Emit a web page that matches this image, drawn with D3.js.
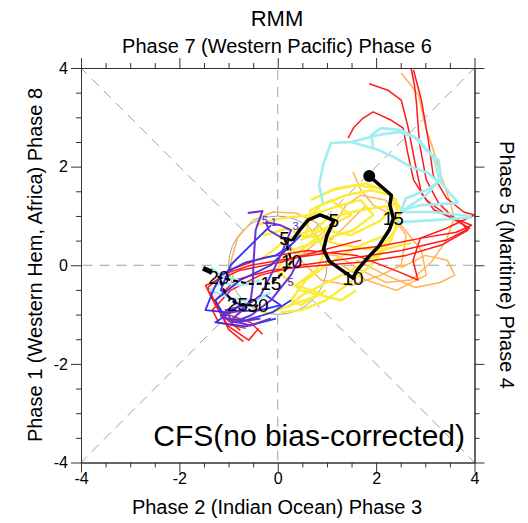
<!DOCTYPE html>
<html>
<head>
<meta charset="utf-8">
<script src="https://cdn.jsdelivr.net/npm/d3@7"></script>
<style>
  body { margin: 0; background: #fff; }
  text { font-family: "Liberation Sans", Arial, Helvetica, sans-serif; fill: #000; }
</style>
</head>
<body>
<svg id="chart" width="528" height="523"></svg>
<script>
// ---- axis ticks ----
const majorTicks = [-4, -2, 0, 2, 4];
const minorTicks = [-3.5, -3, -2.5, -1.5, -1, -0.5, 0.5, 1, 1.5, 2.5, 3, 3.5];

// ---- ensemble member tracks (RMM1, RMM2), grouped by colour ----
const redTracks = [
  [[2.71,4.0],[2.78,3.65],[2.82,3.29],[2.88,2.48],[3.02,1.73],[3.27,1.26],[3.59,0.95],[3.94,0.81],[3.63,0.67],[2.92,0.55],[2.10,0.39],[1.08,0.26],[0.27,0.14],[-0.55,0.0],[-1.16,-0.2],[-1.37,-0.61],[-1.06,-1.08],[-0.76,-1.32]],
  [[1.86,3.68],[2.24,3.55],[2.51,3.35],[2.65,2.80],[2.78,2.13],[2.92,1.46],[3.18,1.12],[3.73,0.87],[3.86,0.71],[3.33,0.41],[2.61,0.2],[1.69,0.06],[0.67,-0.02],[-0.14,-0.1],[-0.86,-0.3],[-1.27,-0.71],[-1.16,-0.95],[-0.55,-1.16],[-0.31,-1.4]],
  [[1.43,2.58],[1.55,2.8],[1.73,2.98],[1.94,3.11],[2.31,2.94],[2.55,2.78],[2.63,2.34],[2.76,1.73],[3.02,1.32],[3.43,1.02],[3.9,0.75],[3.43,0.51],[2.51,0.3],[1.49,0.14],[0.47,0.0],[-0.35,-0.2],[-0.96,-0.51],[-1.33,-0.91],[-1.2,-1.16],[-0.65,-1.28]],
  [[2.76,3.96],[2.92,3.35],[3.06,2.54],[3.16,1.83],[3.43,1.36],[3.78,1.08],[4.0,1.02],[3.43,0.75],[2.9,0.55],[2.75,0.1],[2.85,-0.3],[2.5,-0.15],[1.6,0.2],[0.6,0.3],[-0.3,0.15],[-1.0,-0.1],[-1.42,-0.45],[-1.25,-0.8],[-1.0,-1.3],[-0.7,-1.55]],
  [[1.69,0.51],[0.88,0.3],[0.06,0.06],[-0.76,-0.1],[-1.47,-0.41],[-1.27,-0.81],[-1.0,-1.24],[-0.59,-1.52],[-0.39,-1.28]]
];
const orangeTracks = [
  [[2.51,3.9],[2.71,3.65],[2.86,3.45],[3.02,2.74],[3.12,2.48],[3.33,1.79],[3.49,1.32],[3.59,0.97],[3.43,0.51],[3.12,0.06],[2.71,-0.3],[2.2,-0.35],[1.69,-0.1],[1.2,0.2],[0.6,0.25],[0.0,0.05]],
  [[1.53,1.89],[1.69,1.52],[1.94,1.22],[2.31,1.02],[2.61,0.61],[2.51,0.0],[2.1,-0.2],[1.49,-0.41],[0.88,-0.3],[0.47,0.1],[0.16,0.51]],
  [[1.8,1.22],[1.39,0.81],[1.08,0.51],[0.78,0.87],[0.37,1.06],[-0.1,1.08],[-0.51,0.91],[-0.82,0.55],[-0.96,0.04],[-0.9,-0.3]],
  [[0.47,0.2],[1.08,0.71],[1.39,1.22],[1.69,1.42],[2.2,1.32],[2.51,0.81],[2.92,0.3],[3.02,-0.2],[2.41,-0.51],[1.8,-0.3],[1.3,0.0]],
  [[1.6,0.1],[2.2,-0.2],[2.8,-0.45],[3.3,-0.35],[3.6,-0.2],[3.45,0.1],[3.0,0.2],[2.5,-0.05]]
];
const yellowTracks = [
  [[0.53,0.87],[0.88,1.22],[1.39,1.42],[1.9,1.52],[2.31,1.42],[2.47,1.02],[2.2,0.61],[1.69,0.41],[1.08,0.06],[0.57,-0.3],[0.27,-0.71],[0.47,-0.81],[0.98,-0.51]],
  [[-0.45,0.81],[0.06,0.95],[0.67,1.02],[1.29,1.22],[1.69,1.32],[1.94,1.02],[1.53,0.71],[0.88,0.51],[0.27,0.3],[-0.04,-0.1],[0.47,-0.51],[1.29,-0.71],[1.59,-0.51]],
  [[0.47,0.51],[1.08,0.81],[1.49,1.02],[1.08,1.32],[0.67,1.12],[0.57,0.61],[1.29,0.41],[2.1,0.3],[2.51,0.41],[2.71,0.45]],
  [[-0.35,0.1],[0.16,0.51],[0.67,0.71],[0.98,0.3],[0.78,-0.1],[0.37,-0.41],[0.9,-0.58],[-0.2,-0.98],[-0.45,-0.9]],
  [[1.08,1.52],[1.59,1.62],[2.1,1.56],[2.41,1.32],[2.1,0.91],[1.49,0.61],[0.98,0.71],[0.47,0.3],[0.06,-0.2]],
  [[0.67,1.32],[1.18,1.56],[1.8,1.66],[2.27,1.48],[2.51,1.12],[2.31,0.51],[1.9,0.0],[1.39,-0.41],[0.98,-0.71],[0.47,-0.91],[0.06,-0.95]],
  [[-0.3,0.6],[0.2,0.75],[0.6,0.55],[1.0,0.95],[1.6,1.1],[2.2,1.2],[2.45,0.8],[2.0,0.2],[1.5,-0.1],[1.0,-0.35],[0.5,-0.6],[0.2,-0.85]]
];
const cyanTracks = [
  [[0.92,1.26],[0.84,1.62],[0.92,2.03],[1.08,2.48],[1.49,2.5],[2.04,2.64],[2.45,2.7],[2.78,2.6],[3.02,2.34],[3.27,2.13],[3.33,1.66],[3.67,1.26]],
  [[1.94,2.38],[1.9,2.64],[2.1,2.78],[2.51,2.74],[2.88,2.54],[3.16,2.19],[3.29,1.73],[3.02,1.42],[2.71,1.22],[2.51,1.08],[3.12,1.08],[3.94,1.0]],
  [[1.49,2.5],[2.04,2.34],[2.37,2.19],[2.71,1.99],[3.06,1.87],[3.27,1.69],[3.02,1.52],[2.61,1.36],[2.51,1.12],[2.92,1.22],[3.67,1.26]],
  [[2.41,0.87],[3.12,0.91],[3.94,0.97]],
  [[-0.35,-0.3],[-0.76,-0.41],[-1.16,-0.35],[-1.37,-0.51],[-0.96,-0.67],[-0.45,-0.71],[-0.14,-0.55]],
  [[-1.35,-0.05],[-1.1,-0.25],[-0.8,-0.3]]
];
const blueTracks = [
  [[0.27,0.41],[-0.04,0.2],[-0.65,0.06],[-1.16,-0.2],[-1.31,-0.51],[-1.47,-0.91],[-1.06,-0.95],[-0.35,-0.91],[0.06,-0.81],[-0.24,-0.61]],
  [[0.47,0.61],[-0.14,0.0],[-0.76,-0.3],[-1.27,-0.71],[-1.06,-1.08],[-0.65,-1.12],[-0.1,-0.95],[0.27,-0.71]],
  [[-0.14,0.81],[-0.55,0.41],[-0.96,0.0],[-1.16,-0.51],[-0.76,-0.81],[-1.27,-1.16],[-0.65,-1.24],[-0.04,-1.08]]
];
const purpleTracks = [
  [[-0.61,1.06],[-0.31,1.1],[-0.45,0.71],[-0.49,0.1],[-0.51,-0.41],[-0.55,-0.71],[-0.76,-0.95],[-0.96,-1.12],[-0.55,-1.22],[-0.14,-1.08]],
  [[0.27,0.3],[0.16,0.51],[-0.18,0.71],[-0.24,0.87],[0.06,0.81],[0.27,0.71],[0.06,0.2],[-0.14,-0.2],[-0.35,-0.61],[-0.76,-0.91],[-1.16,-1.02],[-0.86,-1.16],[-0.35,-1.08]],
  [[0.47,0.2],[0.27,-0.2],[0.1,-0.41],[-0.14,-0.71],[-0.55,-1.02],[-0.92,-1.16],[-1.06,-0.91],[-0.65,-0.81]]
];
const purpleDayLabels = [
  { t: "5", p: [-0.26, 0.92] },
  { t: "1", p: [-0.08, 0.87] },
  { t: "3", p: [0.36, 0.80] },
  { t: "5", p: [0.26, -0.33] }
];

// ---- ensemble-mean paths with day labels ----
const meanSolid = [[1.86,1.81],[2.31,1.42],[2.28,1.22],[2.35,0.95],[2.27,0.72],[2.05,0.38],[1.8,0.12],[1.6,-0.12],[1.53,-0.26],[1.3,-0.1],[1.05,0.08],[0.93,0.32],[1.0,0.6],[1.14,0.91],[0.86,1.02],[0.62,0.92],[0.45,0.72],[0.3,0.5]];
const meanSolidDays = [{ i: 3, t: "15" }, { i: 8, t: "10" }, { i: 13, t: "5" }];
const meanDashed = [[0.3,0.5],[0.14,0.55],[0.28,0.08],[0.12,-0.14],[-0.14,-0.37],[-0.55,-0.38],[-0.95,-0.3],[-1.2,-0.24],[-1.1,-0.5],[-0.95,-0.7],[-0.82,-0.8],[-0.4,-0.82]];
const meanDashedDays = [{ i: 1, t: "5" }, { i: 2, t: "10" }, { i: 4, t: "15" }, { i: 7, t: "20" }, { i: 10, t: "25" }, { i: 11, t: "30" }];
const meanTail = [[-1.52,-0.06],[-1.34,-0.14]];

// ---- texts ----
const titleText = "RMM";
const topLabel = "Phase 7 (Western Pacific) Phase 6";
const bottomLabel = "Phase 2 (Indian Ocean) Phase 3";
const leftLabel = "Phase 1 (Western Hem, Africa) Phase 8";
const rightLabel = "Phase 5 (Maritime) Phase 4";
const modelLabel = "CFS(no bias-corrected)";

const svg = d3.select("#chart");
const x = d3.scaleLinear().domain([-4, 4]).range([81, 474.5]);
const y = d3.scaleLinear().domain([-4, 4]).range([462.5, 68]);
const line = d3.line().x(d => x(d[0])).y(d => y(d[1]));

// phase separators: dashed rays from the unit circle to the frame
const rays = [[4,0],[4,4],[0,4],[-4,4],[-4,0],[-4,-4],[0,-4],[4,-4]];
svg.append("g").selectAll("line").data(rays).join("line")
  .attr("x1", d => { const r = Math.hypot(d[0], d[1]); return x(d[0] / r); })
  .attr("y1", d => { const r = Math.hypot(d[0], d[1]); return y(d[1] / r); })
  .attr("x2", d => x(d[0])).attr("y2", d => y(d[1]))
  .attr("stroke", "#a0a0a0").attr("stroke-width", 1).attr("stroke-dasharray", "10,7");

svg.append("circle")
  .attr("cx", x(0)).attr("cy", y(0)).attr("r", x(1) - x(0))
  .attr("fill", "none").attr("stroke", "#a0a0a0").attr("stroke-width", 1);

// member tracks
const groups = [
  { data: orangeTracks, color: "#ffb450", w: 1.5 },
  { data: yellowTracks, color: "#fcec3a", w: 2.4 },
  { data: redTracks, color: "#ff1a1a", w: 1.5 },
  { data: cyanTracks, color: "#9eeef2", w: 2.6 },
  { data: blueTracks, color: "#3232f0", w: 1.8 },
  { data: purpleTracks, color: "#7030d2", w: 2.0 }
];
const plot = svg.append("g");
groups.forEach(g => {
  plot.append("g").selectAll("path").data(g.data).join("path")
    .attr("d", line).attr("fill", "none")
    .attr("stroke", g.color).attr("stroke-width", g.w)
    .attr("stroke-linejoin", "round");
});

plot.append("g").selectAll("text").data(purpleDayLabels).join("text")
  .attr("x", d => x(d.p[0])).attr("y", d => y(d.p[1]))
  .attr("text-anchor", "middle").attr("dominant-baseline", "central")
  .attr("font-size", 11).style("fill", "#5a2ad0").text(d => d.t);

// ensemble means
plot.append("path").attr("d", line(meanDashed)).attr("fill", "none")
  .attr("stroke", "#000").attr("stroke-width", 2.2).attr("stroke-dasharray", "5,3");
plot.append("path").attr("d", line(meanTail)).attr("fill", "none")
  .attr("stroke", "#000").attr("stroke-width", 5);
plot.append("path").attr("d", line(meanSolid)).attr("fill", "none")
  .attr("stroke", "#000").attr("stroke-width", 3.5).attr("stroke-linejoin", "round");
plot.append("circle").attr("cx", x(meanSolid[0][0])).attr("cy", y(meanSolid[0][1]))
  .attr("r", 6).attr("fill", "#000");

const dayText = (days, path) => plot.append("g").selectAll("text").data(days).join("text")
  .attr("x", d => x(path[d.i][0])).attr("y", d => y(path[d.i][1]))
  .attr("text-anchor", "middle").attr("dominant-baseline", "central")
  .attr("font-size", 19).text(d => d.t);
dayText(meanSolidDays, meanSolid);
dayText(meanDashedDays, meanDashed);

// frame and ticks
const axisColor = "#333";
function styleAxis(g) {
  g.selectAll("path.domain").attr("stroke", axisColor);
  g.selectAll("line").attr("stroke", axisColor);
  g.selectAll("text").attr("font-size", 16).style("fill", "#000");
}
const fmt = d => String(d);
const bottom = svg.append("g").attr("transform", `translate(0,${y(-4)})`)
  .call(d3.axisBottom(x).tickValues(majorTicks).tickSize(10).tickSizeOuter(0).tickPadding(0).tickFormat(fmt));
svg.append("g").attr("transform", `translate(0,${y(-4)})`)
  .call(d3.axisBottom(x).tickValues(minorTicks).tickSize(5).tickSizeOuter(0).tickFormat("")).call(styleAxis);
styleAxis(bottom);
const left = svg.append("g").attr("transform", `translate(${x(-4)},0)`)
  .call(d3.axisLeft(y).tickValues(majorTicks).tickSize(10).tickSizeOuter(0).tickPadding(3).tickFormat(fmt));
svg.append("g").attr("transform", `translate(${x(-4)},0)`)
  .call(d3.axisLeft(y).tickValues(minorTicks).tickSize(5).tickSizeOuter(0).tickFormat("")).call(styleAxis);
styleAxis(left);
svg.append("g").attr("transform", `translate(0,${y(4)})`)
  .call(d3.axisTop(x).tickValues(majorTicks).tickSize(10).tickSizeOuter(0).tickFormat("")).call(styleAxis);
svg.append("g").attr("transform", `translate(0,${y(4)})`)
  .call(d3.axisTop(x).tickValues(minorTicks).tickSize(5).tickSizeOuter(0).tickFormat("")).call(styleAxis);
svg.append("g").attr("transform", `translate(${x(4)},0)`)
  .call(d3.axisRight(y).tickValues(majorTicks).tickSize(10).tickSizeOuter(0).tickFormat("")).call(styleAxis);
svg.append("g").attr("transform", `translate(${x(4)},0)`)
  .call(d3.axisRight(y).tickValues(minorTicks).tickSize(5).tickSizeOuter(0).tickFormat("")).call(styleAxis);

// titles and side labels
svg.append("text").attr("x", 277).attr("y", 26).attr("text-anchor", "middle")
  .attr("font-size", 22).text(titleText);
svg.append("text").attr("x", 277).attr("y", 53).attr("text-anchor", "middle")
  .attr("font-size", 20).text(topLabel);
svg.append("text").attr("x", 277).attr("y", 514).attr("text-anchor", "middle")
  .attr("font-size", 20).text(bottomLabel);
svg.append("text").attr("transform", "translate(42,265) rotate(-90)").attr("text-anchor", "middle")
  .attr("font-size", 20).text(leftLabel);
svg.append("text").attr("transform", "translate(500,265) rotate(90)").attr("text-anchor", "middle")
  .attr("font-size", 20).text(rightLabel);
svg.append("text").attr("x", 465).attr("y", 446).attr("text-anchor", "end")
  .attr("font-size", 30).text(modelLabel);
</script>
</body>
</html>
